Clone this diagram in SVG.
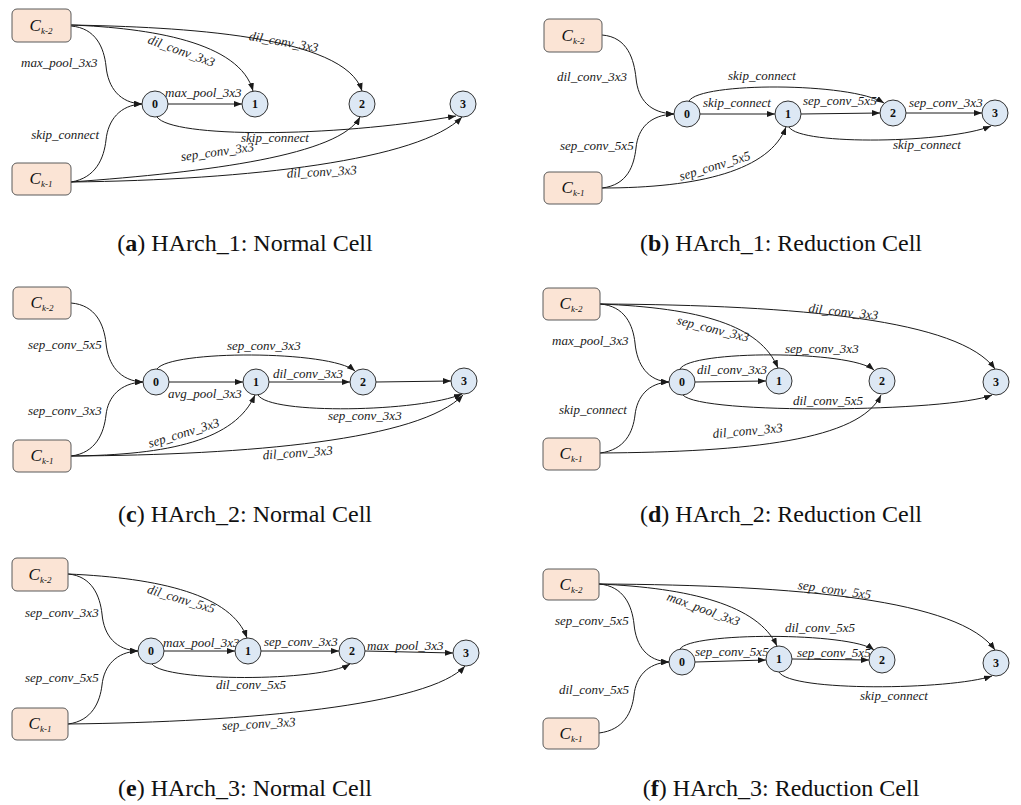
<svg xmlns="http://www.w3.org/2000/svg" width="1021" height="805" viewBox="0 0 1021 805">
  <style>
    .box { fill: #fbe4d5; stroke: #5a5a5a; stroke-width: 1; }
    .node { fill: #dde8f4; stroke: #333; stroke-width: 1; }
    .edge { fill: none; stroke: #1a1a1a; stroke-width: 1; marker-end: url(#arrow); }
    .in { font-family: "Liberation Serif", serif; font-style: italic; font-size: 17px; fill: #111; text-anchor: middle; }
    .sub { font-size: 9px; }
    .num { font-family: "Liberation Serif", serif; font-weight: bold; font-size: 12px; fill: #111; text-anchor: middle; }
    .lbl { font-family: "Liberation Serif", serif; font-style: italic; font-size: 13px; fill: #1a1a1a; }
    .mid { text-anchor: middle; }
    .end { text-anchor: end; }
    .cap { font-family: "Liberation Serif", serif; font-size: 24px; fill: #111; text-anchor: middle; }
    .cap tspan.b { font-weight: bold; }
  </style>
  <defs>
    <marker id="arrow" markerUnits="userSpaceOnUse" markerWidth="8" markerHeight="6" refX="8" refY="3" orient="auto">
      <path d="M0,0 L8,3 L0,6 z" fill="#1a1a1a"/>
    </marker>
  </defs>
  <rect width="1021" height="805" fill="#fff"/>

  <!-- (a) HArch_1 normal cell -->
  <g id="cell-a">
    <g id="connectors-a">
      <path class="edge" d="M71,26 C96,28 104,48 106,66 C108,88 120,103 142,104"/>
      <path class="edge" d="M71,182 C96,178 104,158 106,140 C108,120 120,105 142,104"/>
      <path class="edge" d="M71,25 C150,28 240,42 253,91"/>
      <path class="edge" d="M71,25 C180,27 345,35 362,91"/>
      <path class="edge" d="M168,104 L242,104"/>
      <path class="edge" d="M157,117 C172,138 330,138 456,116"/>
      <path class="edge" d="M71,182 C210,172 340,155 360,117"/>
      <path class="edge" d="M71,182 C250,180 420,160 462,117"/>
      <text class="lbl" x="21" y="67">max_pool_3x3</text>
      <text class="lbl end" x="99" y="139">skip_connect</text>
      <text class="lbl mid" transform="translate(180,55) rotate(20)">dil_conv_3x3</text>
      <text class="lbl mid" transform="translate(283,46) rotate(10)">dil_conv_3x3</text>
      <text class="lbl" x="165" y="97">max_pool_3x3</text>
      <text class="lbl" x="241" y="142">skip_connect</text>
      <text class="lbl mid" transform="translate(218,156) rotate(-8)">sep_conv_3x3</text>
      <text class="lbl mid" transform="translate(322,176) rotate(-3)">dil_conv_3x3</text>
    </g>
    <g id="a-ck2"><rect class="box" x="12" y="9" width="59" height="33" rx="5"/><text class="in" x="41" y="31">C<tspan class="sub" dy="3">k-2</tspan></text></g>
    <g id="a-ck1"><rect class="box" x="12" y="163" width="59" height="32" rx="5"/><text class="in" x="41" y="184">C<tspan class="sub" dy="3">k-1</tspan></text></g>
    <g id="a-n0"><circle class="node" cx="155" cy="104" r="13"/><text class="num" x="155" y="108">0</text></g>
    <g id="a-n1"><circle class="node" cx="255" cy="104" r="13"/><text class="num" x="255" y="108">1</text></g>
    <g id="a-n2"><circle class="node" cx="362" cy="104" r="13"/><text class="num" x="362" y="108">2</text></g>
    <g id="a-n3"><circle class="node" cx="463" cy="104" r="13"/><text class="num" x="463" y="108">3</text></g>
    <text class="cap" x="245" y="251">(<tspan class="b">a</tspan>) HArch_1: Normal Cell</text>
  </g>

  <!-- (b) HArch_1 reduction cell -->
  <g id="cell-b">
    <g id="connectors-b">
      <path class="edge" d="M602,35 C628,37 634,60 636,78 C638,100 650,113 674,114"/>
      <path class="edge" d="M602,188 C628,185 634,165 636,148 C638,128 650,115 674,114"/>
      <path class="edge" d="M602,188 C700,188 770,170 786,127"/>
      <path class="edge" d="M700,114 L775,114"/>
      <path class="edge" d="M689,101 C700,82 850,82 884,103"/>
      <path class="edge" d="M801,114 L880,113"/>
      <path class="edge" d="M906,113 L982,113"/>
      <path class="edge" d="M789,127 C800,146 950,143 991,126"/>
      <text class="lbl" x="557" y="81">dil_conv_3x3</text>
      <text class="lbl" x="560" y="150">sep_conv_5x5</text>
      <text class="lbl" x="728" y="80">skip_connect</text>
      <text class="lbl" x="703" y="107">skip_connect</text>
      <text class="lbl" x="803" y="105">sep_conv_5x5</text>
      <text class="lbl" x="909" y="107">sep_conv_3x3</text>
      <text class="lbl" x="893" y="149">skip_connect</text>
      <text class="lbl mid" transform="translate(716,170) rotate(-17)">sep_conv_5x5</text>
    </g>
    <g id="b-ck2"><rect class="box" x="544" y="19" width="58" height="33" rx="5"/><text class="in" x="573" y="41">C<tspan class="sub" dy="3">k-2</tspan></text></g>
    <g id="b-ck1"><rect class="box" x="544" y="172" width="58" height="32" rx="5"/><text class="in" x="573" y="193">C<tspan class="sub" dy="3">k-1</tspan></text></g>
    <g id="b-n0"><circle class="node" cx="687" cy="114" r="13"/><text class="num" x="687" y="118">0</text></g>
    <g id="b-n1"><circle class="node" cx="788" cy="114" r="13"/><text class="num" x="788" y="118">1</text></g>
    <g id="b-n2"><circle class="node" cx="893" cy="113" r="13"/><text class="num" x="893" y="117">2</text></g>
    <g id="b-n3"><circle class="node" cx="995" cy="113" r="13"/><text class="num" x="995" y="117">3</text></g>
    <text class="cap" x="781" y="251">(<tspan class="b">b</tspan>) HArch_1: Reduction Cell</text>
  </g>

  <!-- (c) HArch_2 normal cell -->
  <g id="cell-c">
    <g id="connectors-c">
      <path class="edge" d="M71,303 C96,305 104,325 106,343 C108,365 120,381 143,382"/>
      <path class="edge" d="M71,456 C96,453 104,433 106,415 C108,397 120,383 143,382"/>
      <path class="edge" d="M169,382 L243,382"/>
      <path class="edge" d="M157,369 C170,350 330,350 355,371"/>
      <path class="edge" d="M269,382 L350,382"/>
      <path class="edge" d="M376,382 L451,381"/>
      <path class="edge" d="M258,395 C270,415 420,412 462,394"/>
      <path class="edge" d="M71,456 C170,455 235,440 255,395"/>
      <path class="edge" d="M71,456 C250,455 420,440 463,395"/>
      <text class="lbl" x="28" y="349">sep_conv_5x5</text>
      <text class="lbl" x="28" y="415">sep_conv_3x3</text>
      <text class="lbl" x="227" y="350">sep_conv_3x3</text>
      <text class="lbl" x="273" y="378">dil_conv_3x3</text>
      <text class="lbl" x="168" y="398">avg_pool_3x3</text>
      <text class="lbl" x="328" y="420">sep_conv_3x3</text>
      <text class="lbl mid" transform="translate(185,437) rotate(-17)">sep_conv_3x3</text>
      <text class="lbl mid" transform="translate(298,457) rotate(-4)">dil_conv_3x3</text>
    </g>
    <g id="c-ck2"><rect class="box" x="13" y="287" width="58" height="32" rx="5"/><text class="in" x="42" y="308">C<tspan class="sub" dy="3">k-2</tspan></text></g>
    <g id="c-ck1"><rect class="box" x="13" y="440" width="58" height="32" rx="5"/><text class="in" x="42" y="461">C<tspan class="sub" dy="3">k-1</tspan></text></g>
    <g id="c-n0"><circle class="node" cx="156" cy="382" r="13"/><text class="num" x="156" y="386">0</text></g>
    <g id="c-n1"><circle class="node" cx="256" cy="382" r="13"/><text class="num" x="256" y="386">1</text></g>
    <g id="c-n2"><circle class="node" cx="363" cy="382" r="13"/><text class="num" x="363" y="386">2</text></g>
    <g id="c-n3"><circle class="node" cx="464" cy="381" r="13"/><text class="num" x="464" y="385">3</text></g>
    <text class="cap" x="245" y="522">(<tspan class="b">c</tspan>) HArch_2: Normal Cell</text>
  </g>

  <!-- (d) HArch_2 reduction cell -->
  <g id="cell-d">
    <g id="connectors-d">
      <path class="edge" d="M600,304 C625,306 633,325 635,343 C637,365 648,381 669,382"/>
      <path class="edge" d="M600,453 C625,450 633,432 635,415 C637,397 648,383 669,382"/>
      <path class="edge" d="M600,304 C700,308 760,325 778,368"/>
      <path class="edge" d="M600,304 C800,305 960,320 995,369"/>
      <path class="edge" d="M695,382 L766,381"/>
      <path class="edge" d="M680,369 C690,350 850,350 874,370"/>
      <path class="edge" d="M683,395 C700,415 950,412 992,395"/>
      <path class="edge" d="M600,453 C750,452 860,440 881,395"/>
      <text class="lbl" x="552" y="345">max_pool_3x3</text>
      <text class="lbl" x="559" y="414">skip_connect</text>
      <text class="lbl mid" transform="translate(712,333) rotate(14)">sep_conv_3x3</text>
      <text class="lbl mid" transform="translate(843,316) rotate(6)">dil_conv_3x3</text>
      <text class="lbl" x="785" y="353">sep_conv_3x3</text>
      <text class="lbl" x="697" y="374">dil_conv_3x3</text>
      <text class="lbl" x="793" y="405">dil_conv_5x5</text>
      <text class="lbl mid" transform="translate(748,435) rotate(-5)">dil_conv_3x3</text>
    </g>
    <g id="d-ck2"><rect class="box" x="543" y="288" width="57" height="32" rx="5"/><text class="in" x="571" y="309">C<tspan class="sub" dy="3">k-2</tspan></text></g>
    <g id="d-ck1"><rect class="box" x="543" y="438" width="57" height="32" rx="5"/><text class="in" x="571" y="459">C<tspan class="sub" dy="3">k-1</tspan></text></g>
    <g id="d-n0"><circle class="node" cx="682" cy="382" r="13"/><text class="num" x="682" y="386">0</text></g>
    <g id="d-n1"><circle class="node" cx="779" cy="381" r="13"/><text class="num" x="779" y="385">1</text></g>
    <g id="d-n2"><circle class="node" cx="882" cy="381" r="13"/><text class="num" x="882" y="385">2</text></g>
    <g id="d-n3"><circle class="node" cx="996" cy="382" r="13"/><text class="num" x="996" y="386">3</text></g>
    <text class="cap" x="781" y="522">(<tspan class="b">d</tspan>) HArch_2: Reduction Cell</text>
  </g>

  <!-- (e) HArch_3 normal cell -->
  <g id="cell-e">
    <g id="connectors-e">
      <path class="edge" d="M68,574 C92,576 100,596 102,614 C104,636 116,650 138,651"/>
      <path class="edge" d="M68,724 C92,721 100,702 102,685 C104,666 116,652 138,651"/>
      <path class="edge" d="M68,574 C160,578 232,595 247,638"/>
      <path class="edge" d="M164,651 L235,651"/>
      <path class="edge" d="M261,651 L339,651"/>
      <path class="edge" d="M365,651 L453,653"/>
      <path class="edge" d="M152,664 C165,682 320,682 350,664"/>
      <path class="edge" d="M68,724 C250,722 430,705 465,666"/>
      <text class="lbl" x="25" y="617">sep_conv_3x3</text>
      <text class="lbl" x="25" y="682">sep_conv_5x5</text>
      <text class="lbl mid" transform="translate(180,603) rotate(17)">dil_conv_5x5</text>
      <text class="lbl" x="163" y="647">max_pool_3x3</text>
      <text class="lbl" x="264" y="646">sep_conv_3x3</text>
      <text class="lbl" x="367" y="650">max_pool_3x3</text>
      <text class="lbl" x="216" y="689">dil_conv_5x5</text>
      <text class="lbl mid" transform="translate(259,728) rotate(-3)">sep_conv_3x3</text>
    </g>
    <g id="e-ck2"><rect class="box" x="12" y="558" width="56" height="33" rx="5"/><text class="in" x="40" y="580">C<tspan class="sub" dy="3">k-2</tspan></text></g>
    <g id="e-ck1"><rect class="box" x="12" y="708" width="56" height="32" rx="5"/><text class="in" x="40" y="729">C<tspan class="sub" dy="3">k-1</tspan></text></g>
    <g id="e-n0"><circle class="node" cx="151" cy="651" r="13"/><text class="num" x="151" y="655">0</text></g>
    <g id="e-n1"><circle class="node" cx="248" cy="651" r="13"/><text class="num" x="248" y="655">1</text></g>
    <g id="e-n2"><circle class="node" cx="352" cy="651" r="13"/><text class="num" x="352" y="655">2</text></g>
    <g id="e-n3"><circle class="node" cx="466" cy="653" r="13"/><text class="num" x="466" y="657">3</text></g>
    <text class="cap" x="245" y="796">(<tspan class="b">e</tspan>) HArch_3: Normal Cell</text>
  </g>

  <!-- (f) HArch_3 reduction cell -->
  <g id="cell-f">
    <g id="connectors-f">
      <path class="edge" d="M599,584 C624,586 632,606 634,624 C636,646 647,661 669,662"/>
      <path class="edge" d="M599,733 C624,730 632,712 634,695 C636,677 647,663 669,662"/>
      <path class="edge" d="M599,584 C690,588 758,605 777,646"/>
      <path class="edge" d="M599,584 C800,585 960,600 995,650"/>
      <path class="edge" d="M695,662 L766,660"/>
      <path class="edge" d="M792,659 L869,660"/>
      <path class="edge" d="M680,649 C690,632 850,632 874,650"/>
      <path class="edge" d="M779,672 C790,692 950,690 992,676"/>
      <text class="lbl" x="555" y="625">sep_conv_5x5</text>
      <text class="lbl" x="559" y="694">dil_conv_5x5</text>
      <text class="lbl mid" transform="translate(702,613) rotate(20)">max_pool_3x3</text>
      <text class="lbl mid" transform="translate(834,594) rotate(8)">sep_conv_5x5</text>
      <text class="lbl" x="785" y="632">dil_conv_5x5</text>
      <text class="lbl" x="695" y="656">sep_conv_5x5</text>
      <text class="lbl" x="797" y="657">sep_conv_5x5</text>
      <text class="lbl" x="860" y="700">skip_connect</text>
    </g>
    <g id="f-ck2"><rect class="box" x="543" y="569" width="56" height="31" rx="5"/><text class="in" x="571" y="590">C<tspan class="sub" dy="3">k-2</tspan></text></g>
    <g id="f-ck1"><rect class="box" x="543" y="718" width="56" height="31" rx="5"/><text class="in" x="571" y="739">C<tspan class="sub" dy="3">k-1</tspan></text></g>
    <g id="f-n0"><circle class="node" cx="682" cy="662" r="13"/><text class="num" x="682" y="666">0</text></g>
    <g id="f-n1"><circle class="node" cx="779" cy="659" r="13"/><text class="num" x="779" y="663">1</text></g>
    <g id="f-n2"><circle class="node" cx="882" cy="660" r="13"/><text class="num" x="882" y="664">2</text></g>
    <g id="f-n3"><circle class="node" cx="996" cy="663" r="13"/><text class="num" x="996" y="667">3</text></g>
    <text class="cap" x="781" y="796">(<tspan class="b">f</tspan>) HArch_3: Reduction Cell</text>
  </g>
</svg>
